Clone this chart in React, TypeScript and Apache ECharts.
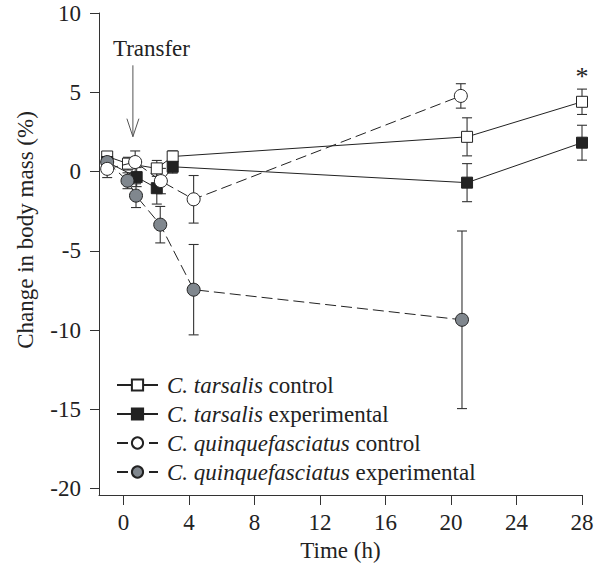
import { useEffect, useRef } from "react";
import * as echarts from "echarts";

// Time after start (h), mean change in body mass (%) and standard error for each group
const tarsalisControlTime = [-1.0, 0.27, 2.03, 3.0, 20.98, 28.0];
const tarsalisControlMass = [0.95, 0.5, 0.2, 0.95, 2.19, 4.4];
const tarsalisControlSE = [0.3, 0.4, 0.5, 0.35, 1.2, 0.8];

const tarsalisExpTime = [-1.0, 0.8, 2.03, 3.0, 20.98, 28.0];
const tarsalisExpMass = [0.6, -0.35, -1.05, 0.3, -0.7, 1.82];
const tarsalisExpSE = [0.3, 0.6, 1.0, 0.4, 1.2, 1.1];

const quinqueControlTime = [-1.0, 0.71, 2.28, 4.28, 20.6];
const quinqueControlMass = [0.17, 0.6, -0.6, -1.75, 4.77];
const quinqueControlSE = [0.55, 0.7, 0.8, 1.5, 0.77];

const quinqueExpTime = [-1.0, 0.24, 0.76, 2.24, 4.28, 20.67];
const quinqueExpMass = [0.6, -0.58, -1.52, -3.35, -7.45, -9.35];
const quinqueExpSE = [0.3, 0.5, 0.75, 1.15, 2.85, 5.6];

const seriesNames = [
  "C. tarsalis control",
  "C. tarsalis experimental",
  "C. quinquefasciatus control",
  "C. quinquefasciatus experimental",
];

const xTicks = [0, 4, 8, 12, 16, 20, 24, 28];
const yTicks = [-20, -15, -10, -5, 0, 5, 10];

const FONT = "'Liberation Serif', 'Times New Roman', serif";
const FS = 23;
const INK = "#222";
const AXIS = "#333";
const GREY_FILL = "#80878e";

const zip = (t: number[], m: number[], se: number[]) => t.map((v, i) => [v, m[i], se[i]]);

export default function App() {
  const ref = useRef<HTMLDivElement>(null);

  useEffect(() => {
    if (!ref.current) return;
    const chart = echarts.init(ref.current, null, { renderer: "svg" });

    const groups = [
      { name: seriesNames[0], data: zip(tarsalisControlTime, tarsalisControlMass, tarsalisControlSE), symbol: "rect", size: 11, fill: "#fff", dashed: false, z: 3 },
      { name: seriesNames[1], data: zip(tarsalisExpTime, tarsalisExpMass, tarsalisExpSE), symbol: "rect", size: 11, fill: INK, dashed: false, z: 3 },
      { name: seriesNames[2], data: zip(quinqueControlTime, quinqueControlMass, quinqueControlSE), symbol: "circle", size: 13, fill: "#fff", dashed: true, z: 5 },
      { name: seriesNames[3], data: zip(quinqueExpTime, quinqueExpMass, quinqueExpSE), symbol: "circle", size: 13, fill: GREY_FILL, dashed: true, z: 4 },
    ];

    // Vertical ±SE bars with short caps, drawn beneath the markers
    const errorBars = groups.map((g) => ({
      type: "custom",
      name: g.name + " SE",
      z: 1,
      silent: true,
      data: g.data,
      encode: { x: 0, y: 1 },
      renderItem: (_p: any, api: any) => {
        const x = api.value(0);
        const y = api.value(1);
        const e = api.value(2);
        const top = api.coord([x, y + e]);
        const bot = api.coord([x, y - e]);
        const style = { stroke: "#333", lineWidth: 1.1 };
        return {
          type: "group",
          children: [
            { type: "line", shape: { x1: top[0], y1: top[1], x2: bot[0], y2: bot[1] }, style },
            { type: "line", shape: { x1: top[0] - 5, y1: top[1], x2: top[0] + 5, y2: top[1] }, style },
            { type: "line", shape: { x1: bot[0] - 5, y1: bot[1], x2: bot[0] + 5, y2: bot[1] }, style },
          ],
        };
      },
    }));

    const lines = groups.map((g) => ({
      type: "line",
      name: g.name,
      z: g.z,
      data: g.data.map((d) => [d[0], d[1]]),
      symbol: g.symbol,
      symbolSize: g.size,
      showAllSymbol: true,
      itemStyle: { color: g.fill, borderColor: INK, borderWidth: 1 },
      lineStyle: { color: INK, width: 1, type: g.dashed ? [11, 5] : "solid" },
      emphasis: { disabled: true },
    }));

    const italicSpecies = (name: string) => name.replace(/^(C\. \w+)/, "{i|$1}");

    chart.setOption({
      animation: false,
      grid: { left: 99, right: 19, top: 13, bottom: 69, outerBoundsMode: "none" },
      xAxis: {
        type: "value",
        min: -1.5,
        max: 28,
        name: "Time (h)",
        nameLocation: "middle",
        nameGap: 42,
        nameTextStyle: { fontFamily: FONT, fontSize: FS, color: INK },
        axisLine: { show: true, onZero: false, lineStyle: { color: AXIS, width: 1 } },
        axisTick: { show: true, length: 10, customValues: xTicks, lineStyle: { color: AXIS } },
        axisLabel: { customValues: xTicks, margin: 16, fontFamily: FONT, fontSize: FS, color: INK },
        splitLine: { show: false },
      },
      yAxis: {
        type: "value",
        min: -20.4,
        max: 10,
        axisLine: { show: true, onZero: false, lineStyle: { color: AXIS, width: 1 } },
        axisTick: { show: true, length: 9, customValues: yTicks, lineStyle: { color: AXIS } },
        axisLabel: { customValues: yTicks, margin: 18, fontFamily: FONT, fontSize: FS, color: INK },
        splitLine: { show: false },
      },
      legend: {
        data: seriesNames,
        orient: "vertical",
        left: 116,
        top: 373,
        padding: 0,
        itemWidth: 41,
        itemHeight: 14,
        itemGap: 5,
        selectedMode: false,
        formatter: italicSpecies,
        textStyle: {
          fontFamily: FONT,
          fontSize: FS,
          color: INK,
          lineHeight: 24,
          padding: [0, 0, 0, 4],
          rich: { i: { fontFamily: FONT, fontSize: FS, fontStyle: "italic", color: INK, lineHeight: 24 } },
        },
      },
      series: [...errorBars, ...lines],
    });

    // Annotations placed in data space: transfer arrow, significance mark, y-axis title
    const transferTime = 0.57;
    const arrowTop = chart.convertToPixel({ gridIndex: 0 }, [transferTime, 6.7]);
    const arrowTip = chart.convertToPixel({ gridIndex: 0 }, [transferTime, 2.2]);
    const star = chart.convertToPixel({ gridIndex: 0 }, [28, 6.2]);

    chart.setOption({
      graphic: [
        {
          type: "text",
          x: arrowTop[0] - 20,
          y: arrowTop[1] - 17,
          style: { text: "Transfer", font: `${FS}px ${FONT}`, fill: INK, textAlign: "left", textVerticalAlign: "middle" },
        },
        {
          type: "line",
          shape: { x1: arrowTop[0], y1: arrowTop[1], x2: arrowTip[0], y2: arrowTip[1] },
          style: { stroke: "#555", lineWidth: 1 },
        },
        {
          type: "polyline",
          shape: { points: [[arrowTip[0] - 6, arrowTip[1] - 18], [arrowTip[0], arrowTip[1]], [arrowTip[0] + 6, arrowTip[1] - 18]] },
          style: { stroke: "#555", lineWidth: 1, fill: "none" },
        },
        {
          type: "text",
          x: star[0],
          y: star[1] + 3,
          style: { text: "*", font: `26px ${FONT}`, fill: INK, textAlign: "center", textVerticalAlign: "middle" },
        },
        {
          type: "text",
          x: 25,
          y: 230,
          rotation: Math.PI / 2,
          style: { text: "Change in body mass (%)", font: `${FS}px ${FONT}`, fill: INK, textAlign: "center", textVerticalAlign: "middle" },
        },
      ],
    });

    return () => chart.dispose();
  }, []);

  return <div ref={ref} style={{ position: "absolute", left: 0, top: 0, width: 601, height: 564 }} />;
}
